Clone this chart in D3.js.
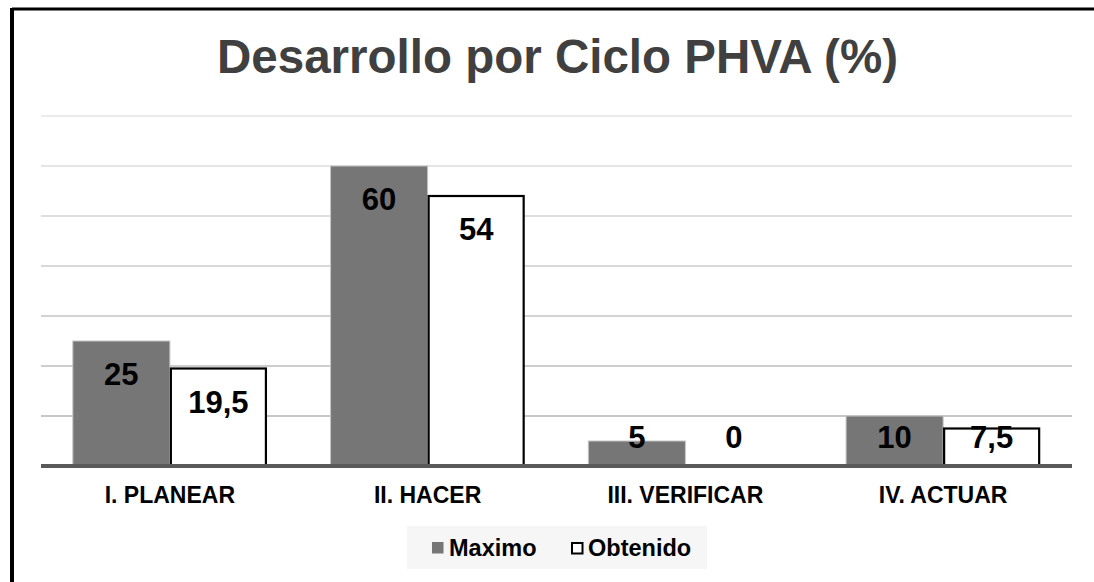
<!DOCTYPE html>
<html>
<head>
<meta charset="utf-8">
<script src="https://cdn.jsdelivr.net/npm/d3@7"></script>
<style>
  html, body { margin: 0; padding: 0; background: #fff; }
  svg { display: block; }
</style>
</head>
<body>
<div id="chart"></div>
<script>
const categories = ['I. PLANEAR', 'II. HACER', 'III. VERIFICAR', 'IV. ACTUAR'];
const seriesNames = ['Maximo', 'Obtenido'];
const maximo = [25, 60, 5, 10];
const obtenido = [19.5, 54, 0, 7.5];
const yTicks = [0, 10, 20, 30, 40, 50, 60, 70];
const titleText = 'Desarrollo por Ciclo PHVA (%)';

const width = 1094
    , height = 582
    , plot = { left: 41, right: 1072, top: 116, bottom: 466 }
    , font = 'Liberation Sans, Arial, sans-serif'
    , maxColor = '#767676'
    ;

const rows = categories.map((c, i) => ({ cat: c, Maximo: maximo[i], Obtenido: obtenido[i] }));
const fmt = v => String(v).replace('.', ',');

const svg = d3.select('#chart').append('svg')
  .attr('width', width)
  .attr('height', height)
  .style('font-family', font);

// outer frame (only top and left show in the crop)
svg.append('line')
  .attr('x1', 12).attr('x2', width).attr('y1', 9).attr('y2', 9)
  .attr('stroke', '#000').attr('stroke-width', 3);
svg.append('line')
  .attr('x1', 12).attr('x2', 12).attr('y1', 8).attr('y2', height)
  .attr('stroke', '#000').attr('stroke-width', 4);

const x0 = d3.scaleBand()
  .domain(categories)
  .range([plot.left, plot.right])
  .paddingInner(0.247)
  .paddingOuter(0.1235);

const x1 = d3.scaleBand()
  .domain(seriesNames)
  .range([0, x0.bandwidth()]);

const y = d3.scaleLinear()
  .domain([0, 70])
  .range([plot.bottom, plot.top]);

// gridlines, lighter towards the top
const gridShade = d3.scaleLinear().domain([10, 70]).range(['#b4b4b4', '#e4e4e4']);
svg.append('g')
  .selectAll('line')
  .data(yTicks.filter(t => t > 0))
  .join('line')
    .attr('x1', plot.left).attr('x2', plot.right)
    .attr('y1', d => y(d)).attr('y2', d => y(d))
    .attr('stroke', d => gridShade(d))
    .attr('stroke-width', 1.3);

// title
svg.append('text')
  .attr('x', (plot.left + plot.right) / 2 + 1)
  .attr('y', 73)
  .attr('text-anchor', 'middle')
  .attr('fill', '#404040')
  .style('font-size', '47.5px')
  .style('font-weight', 'bold')
  .text(titleText);

const groups = svg.append('g')
  .selectAll('g')
  .data(rows)
  .join('g')
    .attr('transform', d => `translate(${x0(d.cat)},0)`);

groups.selectAll('rect')
  .data(d => seriesNames.map(k => ({ key: k, value: d[k] })))
  .join('rect')
    .attr('x', d => x1(d.key) + (d.key === 'Obtenido' ? 1 : 0))
    .attr('width', d => x1.bandwidth() - (d.key === 'Obtenido' ? 2 : 0))
    .attr('y', d => y(d.value))
    .attr('height', d => y(0) - y(d.value))
    .attr('fill', d => d.key === 'Maximo' ? maxColor : '#fff')
    .attr('stroke', d => d.key === 'Maximo' ? '#c4c4c4' : '#000')
    .attr('stroke-width', d => d.key === 'Maximo' ? 1 : 2.2)
    .attr('display', d => d.value > 0 ? null : 'none');

// data labels, inside end, pushed up when the bar is short
groups.selectAll('text')
  .data(d => seriesNames.map(k => ({ key: k, value: d[k] })))
  .join('text')
    .attr('x', d => x1(d.key) + x1.bandwidth() / 2)
    .attr('y', d => Math.min(y(d.value) + 44, 448))
    .attr('text-anchor', 'middle')
    .attr('fill', '#000')
    .style('font-size', '31px')
    .style('font-weight', 'bold')
    .text(d => fmt(d.value));

// baseline
svg.append('line')
  .attr('x1', plot.left).attr('x2', plot.right)
  .attr('y1', y(0)).attr('y2', y(0))
  .attr('stroke', '#595959')
  .attr('stroke-width', 4);

// category labels
const xAxis = svg.append('g')
  .attr('transform', `translate(0,${y(0)})`)
  .call(d3.axisBottom(x0).tickSize(0).tickPadding(0));
xAxis.select('.domain').remove();
xAxis.selectAll('text')
  .attr('y', 37)
  .attr('dy', null)
  .attr('fill', '#000')
  .style('font-family', font)
  .style('font-size', '23px')
  .style('font-weight', 'bold');

// legend
const legend = svg.append('g');
legend.append('rect')
  .attr('x', 407).attr('y', 526)
  .attr('width', 300).attr('height', 43)
  .attr('fill', '#f6f6f6');

const legendItems = [
  { name: seriesNames[0], x: 432, fill: maxColor, stroke: 'none' },
  { name: seriesNames[1], x: 571, fill: '#fff', stroke: '#000' }
];
const li = legend.selectAll('g.item')
  .data(legendItems)
  .join('g')
    .attr('class', 'item')
    .attr('transform', d => `translate(${d.x},0)`);
li.append('rect')
  .attr('x', d => d.stroke === 'none' ? 0 : 1)
  .attr('y', d => d.stroke === 'none' ? 542 : 543)
  .attr('width', d => d.stroke === 'none' ? 11.5 : 10.5)
  .attr('height', d => d.stroke === 'none' ? 11.5 : 10.5)
  .attr('fill', d => d.fill)
  .attr('stroke', d => d.stroke)
  .attr('stroke-width', 2);
li.append('text')
  .attr('x', 17)
  .attr('y', 556)
  .attr('fill', '#000')
  .style('font-size', '23.5px')
  .style('font-weight', 'bold')
  .text(d => d.name);
</script>
</body>
</html>
